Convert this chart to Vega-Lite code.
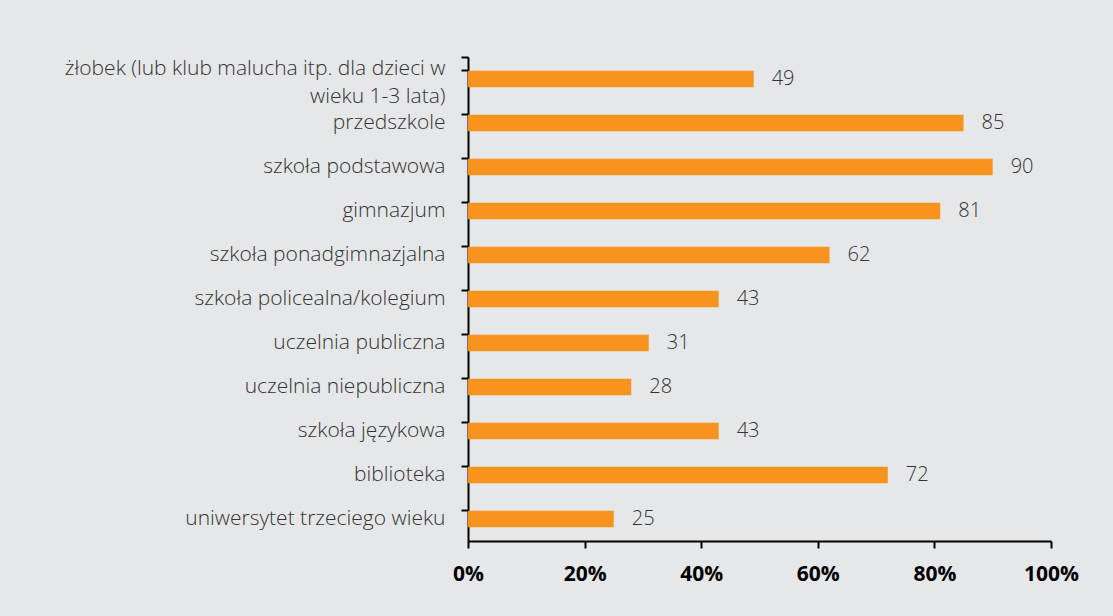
{
  "$schema": "https://vega.github.io/schema/vega-lite/v6.json",
  "width": 583,
  "height": 484,
  "autosize": {"type": "none"},
  "padding": {"left": 468, "top": 57, "right": 62, "bottom": 75},
  "background": "#e6e7e8",
  "config": {
    "view": {"stroke": null},
    "font": "Open Sans"
  },
  "data": {
    "values": [
      {"kategoria": "żłobek (lub klub malucha itp. dla dzieci w|wieku 1-3 lata)", "wartosc": 49},
      {"kategoria": "przedszkole", "wartosc": 85},
      {"kategoria": "szkoła podstawowa", "wartosc": 90},
      {"kategoria": "gimnazjum", "wartosc": 81},
      {"kategoria": "szkoła ponadgimnazjalna", "wartosc": 62},
      {"kategoria": "szkoła policealna/kolegium ", "wartosc": 43},
      {"kategoria": "uczelnia publiczna", "wartosc": 31},
      {"kategoria": "uczelnia niepubliczna", "wartosc": 28},
      {"kategoria": "szkoła językowa", "wartosc": 43},
      {"kategoria": "biblioteka", "wartosc": 72},
      {"kategoria": "uniwersytet trzeciego wieku", "wartosc": 25}
    ]
  },
  "encoding": {
    "y": {
      "field": "kategoria",
      "type": "nominal",
      "sort": null,
      "scale": {"paddingInner": 0.62, "paddingOuter": 0.31},
      "axis": {
        "title": null,
        "labelExpr": "split(datum.label, '|')",
        "labelFont": "Open Sans",
        "labelFontSize": 21,
        "labelFontWeight": 300,
        "labelColor": "#333333",
        "labelLineHeight": 28,
        "labelBaseline": {"condition": {"test": "datum.index == 0", "value": "bottom"}, "value": "middle"},
        "labelPadding": 16,
        "labelLimit": 500,
        "bandPosition": 0,
        "tickExtra": true,
        "domainColor": "#000000",
        "domainWidth": 2,
        "tickColor": "#000000",
        "tickWidth": 2,
        "tickSize": 7
      }
    },
    "x": {
      "field": "wartosc",
      "type": "quantitative",
      "scale": {"domain": [0, 100]},
      "axis": {
        "title": null,
        "values": [0, 20, 40, 60, 80, 100],
        "labelExpr": "datum.value + '%'",
        "labelFont": "Open Sans",
        "labelFontSize": 21,
        "labelFontWeight": "bold",
        "labelColor": "#000000",
        "labelPadding": 15,
        "labelFlush": false,
        "grid": false,
        "domainColor": "#000000",
        "domainWidth": 2,
        "tickColor": "#000000",
        "tickWidth": 2,
        "tickSize": 7
      }
    }
  },
  "layer": [
    {"mark": {"type": "bar", "color": "#f7931e"}},
    {
      "mark": {"type": "text", "align": "left", "dx": 18, "fontSize": 20, "fontWeight": 300, "color": "#333333", "font": "Open Sans"},
      "encoding": {"text": {"field": "wartosc", "type": "quantitative"}}
    }
  ]
}
